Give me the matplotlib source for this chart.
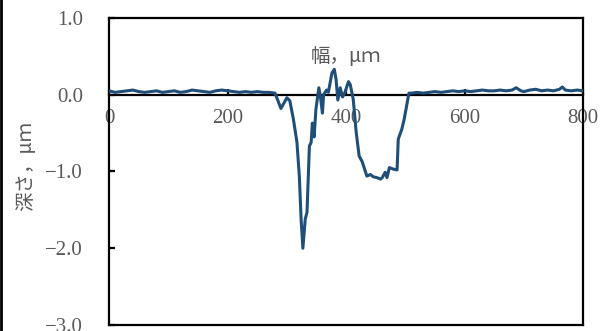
"""Surface profile: depth vs width (recreated figure)."""
import matplotlib
matplotlib.use("Agg")
import matplotlib.pyplot as plt
from matplotlib.lines import Line2D

# ---------------------------------------------------------------------------
# Data
# ---------------------------------------------------------------------------
width_um = [
    0, 10, 20, 30, 40, 50, 60, 70, 80, 90, 100, 110, 120, 130, 140, 150,
    160, 170, 180, 190, 200, 210, 220, 230, 240, 250, 260, 270, 280,
    290, 300, 305, 311, 317, 321, 324, 327, 331, 334, 338, 341, 343, 346,
    349, 354, 357, 360, 362, 367, 370, 376, 380, 383, 386, 390, 394, 398,
    404, 407, 412, 417, 422, 427, 435, 441, 446, 452, 458, 461, 466, 469,
    473, 480, 486, 488, 494, 498, 506,
    510, 520, 530, 540, 550, 560, 570, 580, 590, 600, 610, 620, 630, 640,
    650, 660, 670, 680, 687, 695, 700, 710, 720, 730, 740, 750, 760, 765,
    770, 780, 790, 800,
]
depth_um = [
    0.05, 0.03, 0.04, 0.05, 0.06, 0.04, 0.03, 0.04, 0.05, 0.03, 0.04, 0.05,
    0.03, 0.04, 0.06, 0.05, 0.04, 0.03, 0.05, 0.06, 0.05, 0.04, 0.03, 0.04,
    0.03, 0.04, 0.03, 0.03, 0.02,
    -0.18, -0.04, -0.08, -0.32, -0.62, -1.06, -1.62, -2.00, -1.62, -1.53,
    -0.67, -0.62, -0.37, -0.55, -0.19, 0.09, -0.05, -0.24, 0.00, 0.06, 0.03,
    0.28, 0.33, 0.20, -0.07, 0.09, -0.03, 0.03, 0.17, 0.13, -0.06, -0.49,
    -0.80, -0.87, -1.06, -1.04, -1.07, -1.08, -1.10, -1.08, -1.01, -1.08,
    -0.95, -0.97, -0.98, -0.58, -0.45, -0.32, 0.02,
    0.02, 0.03, 0.02, 0.03, 0.04, 0.03, 0.04, 0.05, 0.04, 0.05, 0.04, 0.05,
    0.06, 0.05, 0.05, 0.06, 0.05, 0.06, 0.09, 0.05, 0.04, 0.06, 0.07, 0.05,
    0.06, 0.05, 0.07, 0.10, 0.06, 0.05, 0.06, 0.05,
]

x_ticks = [0, 200, 400, 600, 800]
y_ticks = [1.0, 0.0, -1.0, -2.0, -3.0]

x_label = "幅，μｍ"
y_label = "深さ，μｍ"

LINE_COLOR = "#1F4E79"
TEXT_COLOR = "#595959"
NUM_FONT = "Liberation Serif"
JP_FONT = ["Noto Sans CJK JP", "DejaVu Sans"]

# ---------------------------------------------------------------------------
# Figure
# ---------------------------------------------------------------------------
fig = plt.figure(figsize=(6.03, 3.31), dpi=100)
ax = fig.add_axes([0.181, 0.018, 0.786, 0.928])

ax.plot(width_um, depth_um, color=LINE_COLOR, linewidth=2.2, zorder=3,
        solid_joinstyle="round")

ax.set_xlim(0, 800)
ax.set_ylim(-3.0, 1.0)
ax.set_xticks(x_ticks)
ax.set_yticks(y_ticks)
ax.set_xticklabels([str(v) for v in x_ticks])
ax.set_yticklabels([f"{v:.1f}".replace("-", "\u2212") for v in y_ticks])

# x axis sits on the zero line; the box bottom is drawn separately
ax.spines["bottom"].set_position(("data", 0))
for side in ["left", "right", "top", "bottom"]:
    ax.spines[side].set_linewidth(1.6)
    ax.spines[side].set_color("black")
ax.plot([0, 1], [0, 0], transform=ax.transAxes, color="black",
        linewidth=1.6, clip_on=False, zorder=4)

ax.tick_params(axis="both", direction="in", length=4, width=1.6,
               colors="black", labelcolor=TEXT_COLOR, labelsize=15)
ax.tick_params(axis="x", pad=10)
ax.tick_params(axis="y", pad=19)
for lbl in ax.get_xticklabels() + ax.get_yticklabels():
    lbl.set_fontfamily(NUM_FONT)

# axis titles
ax.text(0.5, 0.875, x_label, transform=ax.transAxes, ha="center",
        va="center", fontsize=14, color=TEXT_COLOR, family=JP_FONT)
fig.text(0.043, 0.50, y_label, rotation=90, ha="center", va="center",
         fontsize=14, color=TEXT_COLOR, family=JP_FONT)

# outer frame edge on the left
fig.add_artist(Line2D([0.002, 0.002], [0, 1], transform=fig.transFigure,
                      color="black", linewidth=2))

fig.savefig("out.png", dpi=100)
